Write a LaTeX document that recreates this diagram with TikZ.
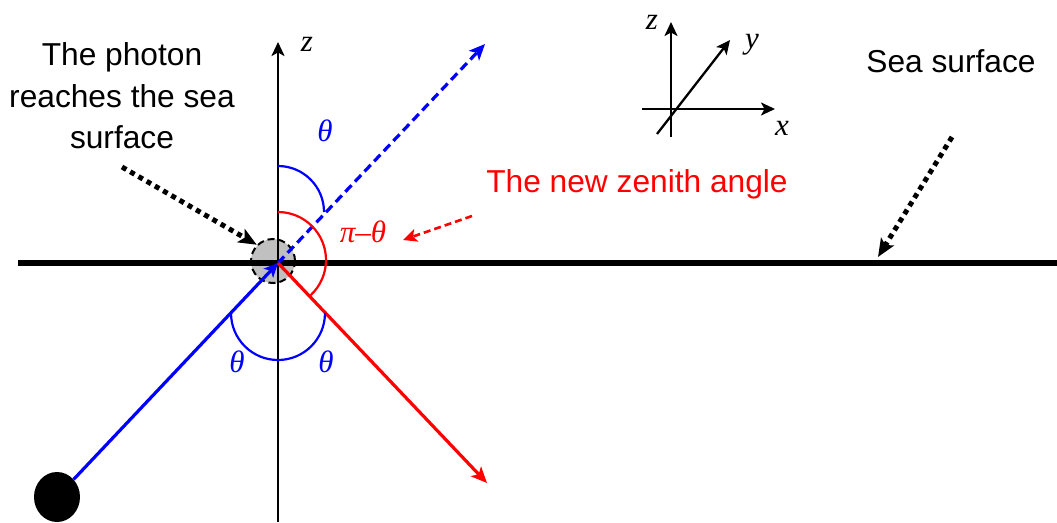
\documentclass[tikz,border=0pt]{standalone}
\usepackage{fontspec}
\setmainfont{Liberation Sans}
\newfontfamily\lserif{Liberation Serif}
\usetikzlibrary{arrows.meta,shapes.geometric}
\definecolor{pblue}{RGB}{0,0,255}
\definecolor{pred}{RGB}{255,0,0}
\definecolor{pgray}{RGB}{192,192,192}
\begin{document}
\begin{tikzpicture}[x=1pt,y=1pt,
  lbl/.style={font=\fontsize{31.7}{41.5}\selectfont, inner sep=0pt, align=center},
  sym/.style={font=\fontsize{31}{31}\selectfont\lserif\itshape, inner sep=0pt},
  tipbig/.style={-{Stealth[length=16pt,width=14pt,inset=4pt]}},
  tipsmall/.style={-{Stealth[length=14pt,width=13pt,inset=3.5pt]}},
  dots/.style={line width=5pt, dash pattern=on 5pt off 4.5pt, -{Stealth[length=18pt,width=15pt,inset=4pt]}},
  arcline/.style={line width=2.2pt},
]
\useasboundingbox (0,0) rectangle (1057,-522);

% key points
\coordinate (O) at (278,-263);
\coordinate (zbot) at (278,-522);
\coordinate (ztop) at (278,-42);
\coordinate (seaL) at (18,-263);
\coordinate (seaR) at (1057,-263);
\coordinate (refl) at (485,-44);
\coordinate (trans) at (487,-483);

% photon position
\node[circle, fill=pgray, draw=black, dash pattern=on 7pt off 4pt, line width=2pt, minimum size=44pt, inner sep=0pt] (photon) at (273,-261) {};

% sea surface and z axis
\draw[line width=5.2pt] (seaL) -- (seaR);
\draw[line width=2.5pt, tipsmall] (zbot) -- (ztop);
\node[sym] (zlab) at (307,-44) {z};

% source
\node[ellipse, fill=black, minimum width=46pt, minimum height=50pt, inner sep=0pt] (src) at (57,-497) {};

% rays
\draw[pblue, line width=3.2pt, tipsmall] (src) -- (O);
\draw[pblue, line width=3.2pt, dash pattern=on 9pt off 5pt, tipbig] (O) -- (refl);
\draw[pred, line width=3.2pt, tipbig] (O) -- (trans);

% angle arcs
\draw[pblue, arcline] (278,-166) arc[start angle=90, end angle=0, radius=46];
\draw[pred, arcline] (278,-212) arc[start angle=90, end angle=-47, radius=48];
\draw[pblue, arcline] (231,-313) arc[start angle=180, end angle=360, radius=47];

% angle labels
\node[sym, text=pblue] (t1) at (325,-131) {θ};
\node[sym, text=pblue] (t2) at (237,-362) {θ};
\node[sym, text=pblue] (t3) at (326,-362) {θ};
\node[sym, text=pred] (pt) at (363,-232) {π–θ};

% annotations
\node[lbl] (photontxt) at (122,-96) {The photon\\reaches the sea\\surface};
\coordinate (p1) at (122,-167);
\draw[dots] (p1) -- (photon.135);

\node[lbl] (seatxt) at (951,-61) {Sea surface};
\coordinate (s1) at (952,-137);
\coordinate (s2) at (878,-257);
\draw[dots] (s1) -- (s2);

\node[lbl, text=pred] (zen) at (637,-184) {The new zenith angle};
\coordinate (r1) at (472,-216);
\coordinate (r2) at (403,-240);
\draw[pred, line width=2.6pt, dash pattern=on 7pt off 4pt, tipsmall] (r1) -- (r2);

% small coordinate frame
\coordinate (fo) at (671,-109);
\coordinate (fzb) at (671,-137);
\coordinate (fzt) at (671,-22);
\coordinate (fxl) at (642,-109);
\coordinate (fxr) at (775,-109);
\coordinate (fyb) at (657,-134);
\coordinate (fyt) at (730,-40);
\draw[line width=2.3pt, tipsmall] (fzb) -- (fzt);
\draw[line width=2.3pt, tipsmall] (fxl) -- (fxr);
\draw[line width=2.3pt, tipsmall] (fyb) -- (fyt);
\node[sym] (fz) at (652,-22) {z};
\node[sym] (fy) at (752,-45) {y};
\node[sym] (fx) at (782,-128) {x};
\end{tikzpicture}
\end{document}
